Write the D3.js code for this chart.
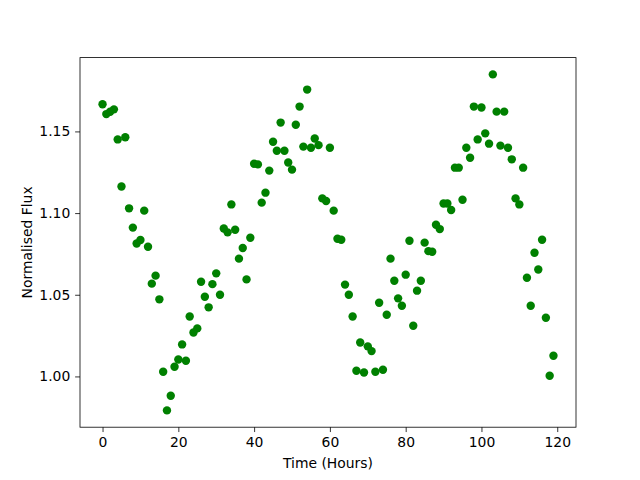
<!DOCTYPE html>
<html>
<head>
<meta charset="utf-8">
<script src="https://cdnjs.cloudflare.com/ajax/libs/d3/7.8.5/d3.min.js"></script>
<style>
  body { margin: 0; background: #fff; }
  svg text { font-family: "DejaVu Sans", sans-serif; }
</style>
</head>
<body>
<svg id="chart" width="640" height="480"></svg>
<script>

// hourly flux readings, hour 0..119
var hours = d3.range(0, 120);
var flux = [
    1.1666, 1.1606, 1.1620, 1.1635, 1.1451, 1.1163, 1.1464, 1.1029, 1.0911, 1.0814,
    1.0835, 1.1015, 1.0794, 1.0568, 1.0617, 1.0472, 1.0029, 0.9792, 0.9882, 1.0059,
    1.0104, 1.0196, 1.0096, 1.0367, 1.0269, 1.0294, 1.0580, 1.0488, 1.0423, 1.0565,
    1.0631, 1.0500, 1.0906, 1.0882, 1.1053, 1.0898, 1.0721, 1.0786, 1.0594, 1.0849,
    1.1302, 1.1298, 1.1064, 1.1125, 1.1260, 1.1437, 1.1382, 1.1554, 1.1382, 1.1310,
    1.1266, 1.1541, 1.1652, 1.1407, 1.1756, 1.1400, 1.1457, 1.1416, 1.1090, 1.1074,
    1.1400, 1.1015, 1.0843, 1.0837, 1.0562, 1.0500, 1.0367, 1.0035, 1.0208, 1.0024,
    1.0184, 1.0155, 1.0029, 1.0451, 1.0041, 1.0378, 1.0721, 1.0586, 1.0478, 1.0433,
    1.0623, 1.0831, 1.0310, 1.0525, 1.0586, 1.0819, 1.0767, 1.0763, 1.0929, 1.0902,
    1.1059, 1.1059, 1.1019, 1.1278, 1.1278, 1.1082, 1.1400, 1.1339, 1.1652, 1.1451,
    1.1646, 1.1488, 1.1425, 1.1849, 1.1621, 1.1413, 1.1621, 1.1400, 1.1329, 1.1090,
    1.1053, 1.1278, 1.0604, 1.0433, 1.0757, 1.0655, 1.0837, 1.0359, 1.0004, 1.0127
];
var xTicks = [0, 20, 40, 60, 80, 100, 120];
var yTicks = [1.00, 1.05, 1.10, 1.15];

var svg = d3.select('#chart');
// plot box (window.top is reserved, so use a box object)
var box = {l: 80, t: 57.6, r: 576, b: 427.2};
var tick = 4.86, font = '13.9px';

// matplotlib style 5% margins
function pad(ext) {
    var m = (ext[1] - ext[0]) * 0.05;
    return [ext[0] - m, ext[1] + m];
}

var x = d3.scaleLinear().domain(pad(d3.extent(hours))).range([box.l, box.r]);
var y = d3.scaleLinear().domain(pad(d3.extent(flux))).range([box.b, box.t]);

var xAxis = svg.append('g')
    .attr('transform', 'translate(0,' + box.b + ')')
    .call(d3.axisBottom(x).tickValues(xTicks).tickFormat(d3.format('d'))
        .tickSizeInner(tick).tickSizeOuter(0).tickPadding(4.9));

var yAxis = svg.append('g')
    .attr('transform', 'translate(' + box.l + ',0)')
    .call(d3.axisLeft(y).tickValues(yTicks).tickFormat(d3.format('.2f'))
        .tickSizeInner(tick).tickSizeOuter(0).tickPadding(4.9));

[xAxis, yAxis].forEach(function(a) {
    a.select('.domain').remove();
    a.selectAll('line').attr('stroke', '#000').attr('stroke-width', 0.8);
    a.selectAll('text').attr('fill', '#000').style('font-size', font)
        .style('font-family', '"DejaVu Sans", sans-serif');
});

// points
svg.append('g').selectAll('circle')
    .data(hours)
    .enter().append('circle')
    .attr('cx', function(d) { return x(d); })
    .attr('cy', function(d, i) { return y(flux[i]); })
    .attr('r', 4.2)
    .attr('fill', 'green');

// frame
svg.append('rect')
    .attr('x', box.l).attr('y', box.t)
    .attr('width', box.r - box.l).attr('height', box.b - box.t)
    .attr('fill', 'none').attr('stroke', '#000').attr('stroke-width', 0.8);

svg.append('text')
    .attr('x', (box.l + box.r) / 2).attr('y', 468)
    .attr('text-anchor', 'middle').style('font-size', font)
    .text('Time (Hours)');

svg.append('text')
    .attr('transform', 'translate(32,' + ((box.t + box.b) / 2) + ') rotate(-90)')
    .attr('text-anchor', 'middle').style('font-size', font)
    .text('Normalised Flux');

</script>
</body>
</html>
